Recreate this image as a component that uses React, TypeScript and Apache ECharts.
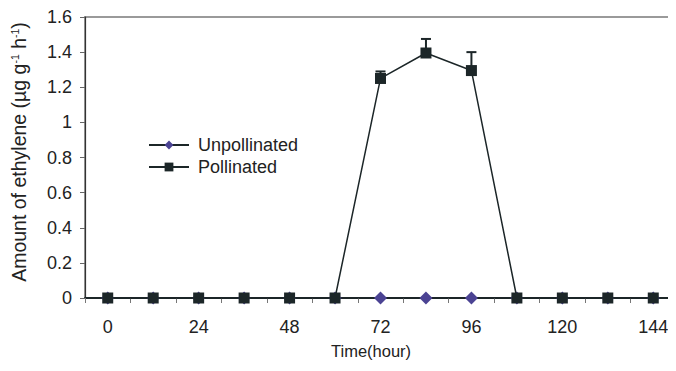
import React, { useEffect, useRef } from "react";
import * as echarts from "echarts";

const hours = ["0", "12", "24", "36", "48", "60", "72", "84", "96", "108", "120", "132", "144"];
const unpollinated = [0, 0, 0, 0, 0, 0, 0, 0, 0, 0, 0, 0, 0];
const pollinated = [0, 0, 0, 0, 0, 0, 1.25, 1.395, 1.295, 0, 0, 0, 0];
const pollinatedErr = [0, 0, 0, 0, 0, 0, 0.04, 0.08, 0.105, 0, 0, 0, 0];

const DARK = "#1c2628";
const PURPLE = "#4b4393";
const TXT = "#222";
const FONT = "'Liberation Sans', Arial, sans-serif";

export default function App() {
  const ref = useRef<HTMLDivElement>(null);
  useEffect(() => {
    if (!ref.current) return;
    const chart = echarts.init(ref.current, undefined, { renderer: "svg" });
    const errData = hours.map((_, i) => [i, pollinated[i], pollinatedErr[i]]).filter((d) => d[2] > 0);
    chart.setOption({
      animation: false,
      textStyle: { fontFamily: FONT },
      grid: {
        left: 85,
        top: 17,
        right: -12,
        bottom: 73,
        show: true,
        borderColor: "#9a9a9a",
        borderWidth: 2,
      },
      legend: {
        orient: "vertical",
        left: 143,
        top: 131,
        itemGap: 4,
        itemWidth: 40,
        itemHeight: 11,
        textStyle: { fontSize: 18, color: TXT, fontFamily: FONT, padding: [0, 0, 0, 4] },
        data: ["Unpollinated", "Pollinated"],
      },
      graphic: [
        {
          type: "text",
          left: 331,
          top: 342,
          style: { text: "Time(hour)", fontSize: 16.5, fill: TXT, fontFamily: FONT },
        },
        {
          type: "text",
          x: 19,
          y: 152,
          rotation: Math.PI / 2,
          style: {
            text: "{a|Amount of ethylene (µg g}{s|-1}{a| h}{s|-1}{a|)}",
            align: "center",
            verticalAlign: "middle",
            rich: {
              a: { fontSize: 19.5, fill: TXT, fontFamily: FONT },
              s: { fontSize: 10.5, fill: TXT, fontFamily: FONT, verticalAlign: "top" },
            },
          },
        },
      ],
      xAxis: {
        type: "category",
        data: hours,
        boundaryGap: true,
        axisLine: { lineStyle: { color: DARK, width: 2 } },
        axisTick: { show: true, interval: 0, length: 5, lineStyle: { color: "#777" } },
        axisLabel: { interval: 1, margin: 20, fontSize: 18, color: TXT, fontFamily: FONT },
        splitLine: { show: false },
      },
      yAxis: {
        type: "value",
        min: 0,
        max: 1.6,
        interval: 0.2,
        axisLine: { show: true, lineStyle: { color: "#333", width: 1.2 } },
        axisTick: { show: true, length: 5, lineStyle: { color: "#666" } },
        axisLabel: {
          margin: 13,
          fontSize: 18,
          color: TXT,
          fontFamily: FONT,
          formatter: (v: number) => String(Math.round(v * 10) / 10),
        },
        splitLine: { show: false },
      },
      series: [
        {
          name: "Unpollinated",
          type: "line",
          data: unpollinated,
          symbol: "diamond",
          symbolSize: 13,
          itemStyle: { color: PURPLE },
          lineStyle: { color: DARK, width: 1.5 },
          z: 2,
        },
        {
          name: "Pollinated",
          type: "line",
          data: pollinated,
          symbol: "rect",
          symbolSize: 11,
          itemStyle: { color: DARK },
          lineStyle: { color: DARK, width: 1.5 },
          z: 3,
        },
        {
          name: "err",
          type: "custom",
          data: errData,
          z: 4,
          renderItem: (params: any, api: any) => {
            const x = api.value(0);
            const v = api.value(1);
            const e = api.value(2);
            const p0 = api.coord([x, v]);
            const p1 = api.coord([x, v + e]);
            return {
              type: "group",
              children: [
                { type: "line", shape: { x1: p0[0], y1: p0[1], x2: p1[0], y2: p1[1] }, style: { stroke: DARK, lineWidth: 2 } },
                { type: "line", shape: { x1: p1[0] - 5, y1: p1[1], x2: p1[0] + 5, y2: p1[1] }, style: { stroke: DARK, lineWidth: 2 } },
              ],
            };
          },
        },
      ],
    });
    return () => chart.dispose();
  }, []);
  return <div ref={ref} style={{ width: 676, height: 371, margin: -8 }} />;
}
